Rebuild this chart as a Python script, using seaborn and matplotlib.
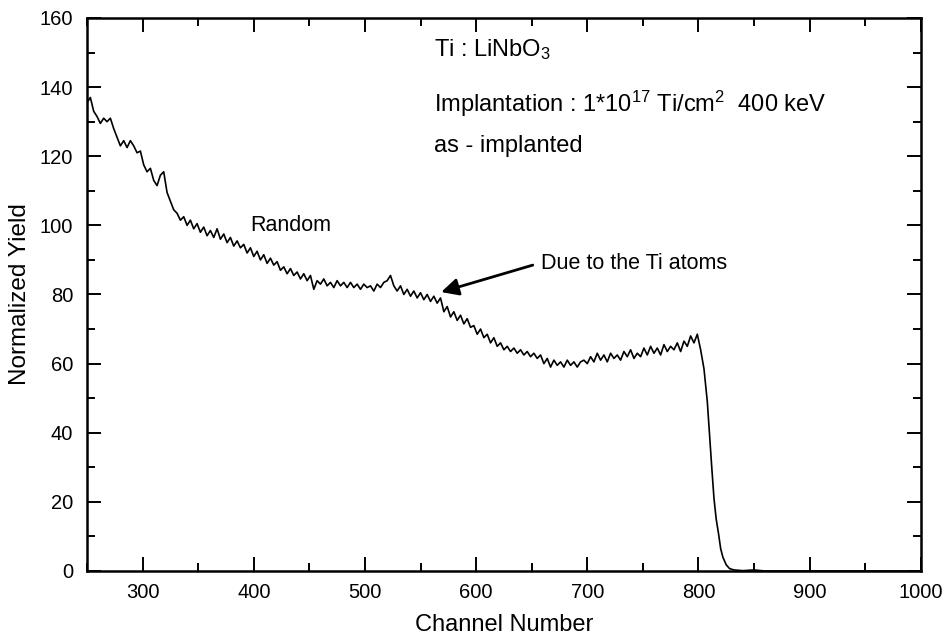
import numpy as np
import pandas as pd
import matplotlib
matplotlib.use("Agg")
import matplotlib.pyplot as plt
from matplotlib.ticker import MultipleLocator
import seaborn as sns

# ---- data ----
# noisy part: channels 250, 253, ..., 799
noisy_start, noisy_step = 250, 3
noisy_yield = [
    135.5, 137.0, 133.0, 131.5, 129.5, 131.0, 130.0, 131.0, 128.0, 125.5,
    123.0, 124.5, 122.5, 124.5, 123.0, 121.0, 121.5, 117.5, 115.5, 116.5,
    113.0, 111.5, 114.5, 115.5, 109.5, 107.0, 104.5, 103.5, 101.5, 102.5,
    100.0, 101.5, 99.0, 100.5, 98.0, 99.5, 97.0, 98.5, 96.5, 99.0,
    96.0, 97.5, 95.0, 96.5, 94.0, 95.5, 93.5, 94.5, 92.0, 93.5,
    91.0, 92.5, 90.0, 91.5, 89.0, 90.5, 88.5, 89.5, 87.0, 88.0,
    86.0, 87.5, 85.5, 86.5, 84.5, 86.0, 84.0, 85.5, 81.5, 84.0,
    83.0, 84.5, 82.5, 83.5, 82.0, 84.0, 82.5, 83.5, 82.0, 83.5,
    82.0, 83.0, 81.5, 83.0, 82.0, 82.5, 81.0, 83.0, 82.0, 83.5,
    84.0, 85.5, 82.5, 81.0, 82.5, 80.0, 81.5, 79.5, 81.0, 79.0,
    80.5, 78.5, 80.0, 78.0, 79.5, 77.5, 79.0, 75.0, 76.5, 73.5,
    75.0, 72.5, 74.0, 71.5, 73.0, 70.5, 71.0, 68.5, 70.0, 67.5,
    68.5, 66.0, 67.5, 65.0, 66.0, 64.0, 65.0, 63.5, 64.5, 63.0,
    64.0, 62.5, 63.5, 62.0, 63.0, 61.5, 62.5, 60.0, 61.5, 59.0,
    61.0, 59.5, 60.5, 59.0, 61.0, 59.5, 60.5, 59.0, 60.5, 61.0,
    60.0, 62.0, 60.5, 63.0, 61.0, 62.5, 60.5, 63.0, 61.5, 62.5,
    61.0, 63.5, 62.0, 64.0, 61.5, 63.0, 62.0, 64.5, 62.5, 65.0,
    63.0, 64.5, 62.5, 65.5, 63.5, 65.0, 64.0, 66.0, 63.5, 66.5,
    65.0, 68.0, 66.0, 68.5,
]
# surface edge and tail
edge_channels = [802, 805, 808, 810, 812, 814, 816, 818, 820, 822, 825, 828,
                 832, 840, 850, 860, 900, 950, 1000]
edge_yield = [64.0, 58.5, 49.0, 39.5, 30.0, 21.0, 15.0, 11.0, 6.5, 4.0, 1.8,
              0.7, 0.3, 0.1, 0.3, 0.0, 0.0, 0.0, 0.0]

x_ticks = [300, 400, 500, 600, 700, 800, 900, 1000]
y_ticks = [0, 20, 40, 60, 80, 100, 120, 140, 160]

noisy_channels = list(range(noisy_start, noisy_start + noisy_step * len(noisy_yield), noisy_step))
df = pd.DataFrame({
    "channel": noisy_channels + edge_channels,
    "yield": noisy_yield + edge_yield,
})

# ---- style ----
sns.set_style("ticks")
plt.rcParams["font.family"] = ["Liberation Sans", "DejaVu Sans"]
plt.rcParams["mathtext.fontset"] = "custom"
plt.rcParams["mathtext.rm"] = "Liberation Sans"
for k in ["text.color", "axes.labelcolor", "xtick.color", "ytick.color", "axes.edgecolor"]:
    plt.rcParams[k] = "black"

fig = plt.figure(figsize=(9.5, 6.42), dpi=100)
ax = fig.add_axes([0.0916, 0.1106, 0.8776, 0.8614])

sns.lineplot(data=df, x="channel", y="yield", ax=ax, color="black",
             linewidth=1.2, sort=False, estimator=None)

ax.set_xlim(250, 1000)
ax.set_ylim(0, 160)
ax.set_xticks(x_ticks)
ax.set_yticks(y_ticks)
ax.xaxis.set_minor_locator(MultipleLocator(50))
ax.yaxis.set_minor_locator(MultipleLocator(10))
ax.tick_params(which="both", direction="in", top=True, right=True,
               width=1.4, colors="black", labelsize=14.5)
ax.tick_params(which="major", length=10)
ax.tick_params(axis="x", which="major", pad=9)
ax.tick_params(axis="y", which="major", pad=10)
ax.tick_params(which="minor", length=6)
for s in ax.spines.values():
    s.set_linewidth(1.8)
    s.set_color("black")

ax.set_xlabel("Channel Number", fontsize=17, labelpad=8)
ax.set_ylabel("Normalized Yield", fontsize=17.5, labelpad=6)

ax.text(397, 100, "Random", fontsize=15.5, va="center", ha="left")
ax.text(562, 151, r"Ti : $\mathregular{LiNbO_3}$", fontsize=17, va="center", ha="left")
ax.text(562, 135, r"Implantation : 1*$\mathregular{10^{17}}$ Ti/$\mathregular{cm^{2}}$  400 keV",
        fontsize=17, va="center", ha="left")
ax.text(562, 123, "as - implanted", fontsize=17, va="center", ha="left")
ax.text(658, 89, "Due to the Ti atoms", fontsize=15.5, va="center", ha="left")
ax.annotate("", xy=(568.6, 80.7), xytext=(651, 88.5),
            arrowprops=dict(arrowstyle="-|>", color="black", lw=2.0,
                            mutation_scale=26, shrinkA=0, shrinkB=0))

fig.savefig("out.png", dpi=100, facecolor="white")
